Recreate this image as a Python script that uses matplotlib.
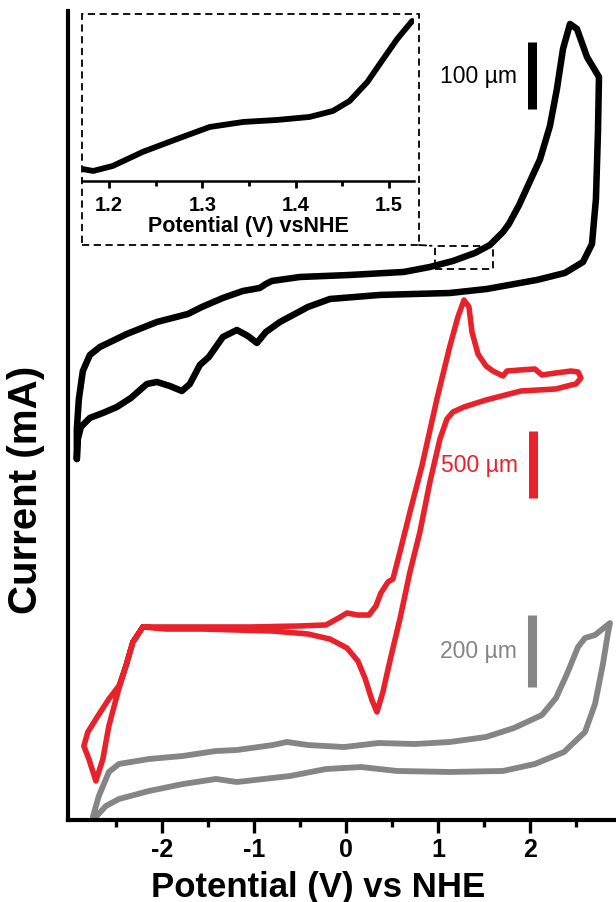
import matplotlib.pyplot as plt
from matplotlib.patches import Rectangle, ConnectionPatch

plt.rcParams['font.family'] = ['Liberation Sans', 'DejaVu Sans']
plt.rcParams['axes.unicode_minus'] = False

# potential (V vs NHE) and offset current (a.u.) for the three CVs
bk_v = [-2.924, -2.924, -2.902, -2.859, -2.783, -2.674, -2.380, -2.054, -1.717, -1.565,
        -1.337, -1.120, -0.935, -0.870, -0.804, -0.500, 0.043, 0.630, 0.913, 1.163,
        1.402, 1.565, 1.707, 1.772, 1.880, 1.967, 2.109, 2.217, 2.293, 2.359, 2.435,
        2.511, 2.620, 2.750, 2.739, 2.717, 2.674, 2.576, 2.380, 2.076, 1.533,
        1.130, 0.370, -0.174, -0.413, -0.717, -0.870, -0.967, -1.065, -1.185, -1.337,
        -1.489, -1.587, -1.696, -1.783, -1.913, -2.054, -2.163, -2.337, -2.489, -2.641,
        -2.783, -2.880, -2.913, -2.924]
bk_i = [3.924, 4.250, 4.576, 4.880, 5.054, 5.141, 5.283, 5.413, 5.500, 5.576,
        5.674, 5.750, 5.783, 5.826, 5.859, 5.902, 5.924, 5.957, 6.011, 6.076,
        6.163, 6.250, 6.391, 6.480, 6.680, 6.870, 7.180, 7.543, 7.946, 8.380, 8.652,
        8.598, 8.293, 8.076, 7.478, 6.750, 6.261, 6.065, 5.946, 5.870, 5.772,
        5.728, 5.707, 5.663, 5.576, 5.413, 5.304, 5.185, 5.261, 5.326, 5.250,
        5.033, 4.946, 4.739, 4.663, 4.717, 4.761, 4.739, 4.587, 4.489, 4.424,
        4.370, 4.272, 4.141, 3.924]

rd_v = [-2.207, -1.587, -1.043, -0.500, -0.217, -0.098, 0.011, 0.130, 0.250, 0.326,
        0.380, 0.457, 0.511, 0.587, 0.696, 0.826, 0.989, 1.130, 1.217, 1.283,
        1.337, 1.370, 1.435, 1.522, 1.598, 1.707, 1.750, 1.891, 2.054, 2.130,
        2.283, 2.446, 2.522, 2.554, 2.500, 2.446, 2.283, 1.902, 1.522, 1.283,
        1.163, 1.098, 1.022, 0.913, 0.804, 0.696, 0.587, 0.478, 0.402, 0.337,
        0.283, 0.207, 0.130, 0.011, -0.174, -0.413, -0.793, -1.185, -1.565, -1.957,
        -2.207, -2.315, -2.391, -2.467, -2.576, -2.696, -2.804, -2.848, -2.793, -2.717,
        -2.641, -2.576, -2.478, -2.391, -2.315, -2.207]
rd_i = [2.098, 2.098, 2.098, 2.109, 2.120, 2.185, 2.250, 2.228, 2.228, 2.326,
        2.467, 2.587, 2.620, 2.913, 3.348, 3.848, 4.576, 5.152, 5.467, 5.652,
        5.576, 5.304, 5.065, 4.935, 4.880, 4.826, 4.880, 4.891, 4.902, 4.837,
        4.859, 4.880, 4.870, 4.804, 4.739, 4.728, 4.685, 4.663, 4.565, 4.489,
        4.435, 4.359, 4.141, 3.674, 3.130, 2.696, 2.185, 1.728, 1.391, 1.174,
        1.304, 1.543, 1.728, 1.870, 1.967, 2.022, 2.054, 2.065, 2.076, 2.076,
        2.098, 1.935, 1.674, 1.457, 1.315, 1.130, 0.957, 0.804, 0.663, 0.424,
        0.663, 1.022, 1.391, 1.674, 1.935, 2.098]

gy_v = [-2.750, -2.685, -2.576, -2.467, -2.141, -1.772, -1.413, -1.185, -0.793, -0.641,
        -0.413, -0.022, 0.359, 0.750, 1.130, 1.522, 1.826, 2.130, 2.283, 2.402,
        2.522, 2.598, 2.707, 2.870, 2.848, 2.793, 2.707, 2.598, 2.370, 2.054,
        1.707, 1.130, 0.554, 0.163, -0.217, -0.609, -1.185, -1.413, -1.772, -2.141,
        -2.467, -2.609, -2.717]
gy_i = [0.033, 0.261, 0.522, 0.609, 0.663, 0.696, 0.750, 0.761, 0.815, 0.848,
        0.815, 0.793, 0.837, 0.826, 0.848, 0.902, 1.000, 1.141, 1.326, 1.587,
        1.880, 1.978, 2.011, 2.141, 2.033, 1.696, 1.261, 0.957, 0.739, 0.609,
        0.533, 0.522, 0.533, 0.576, 0.554, 0.478, 0.413, 0.446, 0.391, 0.315,
        0.228, 0.152, 0.033]

# zoomed part of the black curve
ins_v = [1.171, 1.183, 1.204, 1.236, 1.273, 1.308, 1.344, 1.380, 1.415, 1.440,
         1.458, 1.477, 1.494, 1.509, 1.525]
ins_i = [0.12, 0.10, 0.15, 0.29, 0.42, 0.54, 0.59, 0.61, 0.64, 0.70,
         0.80, 0.99, 1.22, 1.42, 1.60]

# scale bars: label, x, bottom, top
bar_labels = ['100 µm', '500 µm', '200 µm']
bar_x = [2.022, 2.033, 2.022]
bar_lo = [7.728, 3.500, 1.446]
bar_hi = [8.457, 4.228, 2.228]

RED = '#e8212a'
GRAY = '#858585'
colors = ['black', RED, GRAY]

fig = plt.figure(figsize=(6.16, 9.03), dpi=100)
ax = fig.add_axes([0.1104, 0.0908, 0.8896, 0.8959])

ax.plot(bk_v, bk_i, color='black', lw=4.7, solid_joinstyle='round', solid_capstyle='round')
ax.plot(rd_v, rd_i, color=RED, lw=4.0, solid_joinstyle='round', solid_capstyle='round')
ax.plot(gy_v, gy_i, color=GRAY, lw=4.2, solid_joinstyle='round', solid_capstyle='round')

for lab, x, lo, hi, c in zip(bar_labels, bar_x, bar_lo, bar_hi, colors):
    ax.plot([x, x], [lo, hi], color=c, lw=6.5, solid_capstyle='butt')
    ax.text(x - 0.16, (lo + hi) / 2, lab, color=c, fontsize=16.5,
            ha='right', va='center')

ax.set_xlim(-3.02, 2.935)
ax.set_ylim(0, 8.793)
ax.spines['top'].set_visible(False)
ax.spines['right'].set_visible(False)
ax.spines['left'].set_linewidth(3)
ax.spines['bottom'].set_linewidth(3)
ax.set_yticks([])
ax.set_xticks([-2, -1, 0, 1, 2])
ax.set_xticks([-2.5, -1.5, -0.5, 0.5, 1.5, 2.5], minor=True)
ax.tick_params(axis='x', which='major', length=9, width=2.4, direction='out',
               labelsize=18, pad=3)
ax.tick_params(axis='x', which='minor', length=5, width=2.4, direction='out')
for t in ax.get_xticklabels():
    t.set_fontweight('bold')

ax.set_xlabel('Potential (V) vs NHE', fontsize=25, fontweight='bold')
ax.xaxis.label.set_va('baseline')
ax.xaxis.set_label_coords(0.456, -0.094)
ax.set_ylabel('Current (mA)', fontsize=29, fontweight='bold')
ax.yaxis.label.set_va('center')
ax.yaxis.set_label_coords(-0.0766, 0.409)

# small dashed box around the zoomed region
ax.add_patch(Rectangle((0.967, 5.989), 0.631, 0.250, fill=False, ec='black',
                       lw=1.3, ls=(0, (4, 2.5))))

# inset
box = Rectangle((0.1331, 0.7276), 0.5471, 0.2558, transform=fig.transFigure,
                fill=False, ec='black', lw=1.3, ls=(0, (4, 2.5)))
fig.patches.append(box)
con = ConnectionPatch(xyA=(0.6802, 0.7276), coordsA='figure fraction',
                      xyB=(0.967, 6.239), coordsB='data', axesB=ax,
                      color='black', lw=1.3, ls=(0, (4, 2, 1, 2)))
fig.add_artist(con)

axi = fig.add_axes([0.1331, 0.7985, 0.539, 0.1816])
axi.plot(ins_v, ins_i, color='black', lw=4.2, solid_capstyle='round',
         solid_joinstyle='round')
axi.set_xlim(1.171, 1.527)
axi.set_ylim(0, 1.64)
for s in ['top', 'right', 'left']:
    axi.spines[s].set_visible(False)
axi.spines['bottom'].set_linewidth(1.8)
axi.patch.set_alpha(0)
axi.set_yticks([])
axi.set_xticks([1.2, 1.3, 1.4, 1.5])
axi.set_xticklabels(['1.2', '1.3', '1.4', '1.5'])
axi.set_xticks([1.25, 1.35, 1.45], minor=True)
axi.tick_params(axis='x', which='major', length=5, width=2, labelsize=14.5, pad=5)
axi.tick_params(axis='x', which='minor', length=3.5, width=2)
for t in axi.get_xticklabels():
    t.set_fontweight('bold')
axi.set_xlabel('Potential (V) vsNHE', fontsize=15.5, fontweight='bold', labelpad=1)

fig.savefig('out.png', dpi=100)
